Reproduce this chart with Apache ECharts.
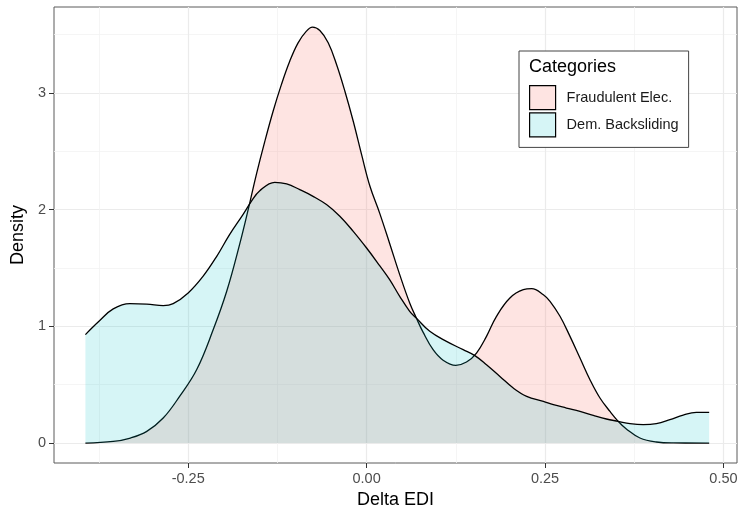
<!DOCTYPE html>
<html>
<head>
<meta charset="utf-8">
<script src="https://cdn.jsdelivr.net/npm/echarts@6/dist/echarts.min.js"></script>
<style>html,body{margin:0;padding:0;background:#fff}#c{width:739px;height:505px}</style>
</head>
<body>
<div id="c"></div>
<script>
// ---- data ----
var fraudX = [-0.394,-0.355,-0.331,-0.308,-0.285,-0.262,-0.238,-0.215,-0.196,-0.178,-0.164,-0.1545,-0.1428,-0.131,-0.1194,-0.1077,-0.096,-0.0843,-0.0758,-0.0655,-0.0538,-0.0421,-0.0304,-0.0187,-0.007,0.0047,0.0183,0.0323,0.0464,0.0604,0.0698,0.0791,0.0932,0.1072,0.125,0.140,0.154,0.168,0.182,0.2008,0.2196,0.2313,0.2477,0.257,0.271,0.285,0.299,0.313,0.327,0.341,0.3526,0.364,0.383,0.406,0.43,0.48];
var fraudY = [0,0.014,0.043,0.10,0.214,0.40,0.63,0.97,1.30,1.70,2.05,2.30,2.58,2.843,3.071,3.271,3.429,3.529,3.563,3.534,3.429,3.243,3.014,2.757,2.471,2.2,1.97,1.71,1.443,1.20,1.07,0.95,0.80,0.71,0.666,0.694,0.771,0.914,1.086,1.243,1.314,1.323,1.271,1.214,1.086,0.914,0.729,0.543,0.386,0.271,0.186,0.12,0.043,0.009,0.001,0];
var backX = [-0.394,-0.375,-0.355,-0.3316,-0.308,-0.285,-0.271,-0.25,-0.229,-0.210,-0.192,-0.173,-0.1615,-0.150,-0.1287,-0.112,-0.0936,-0.075,-0.0562,-0.0375,-0.0187,0.0,0.0183,0.0323,0.0464,0.0604,0.0698,0.0885,0.1119,0.1353,0.1517,0.168,0.1868,0.2055,0.2243,0.2477,0.2617,0.280,0.299,0.3176,0.336,0.3526,0.369,0.3876,0.406,0.425,0.4436,0.462,0.48];
var backY = [0.929,1.043,1.149,1.194,1.191,1.177,1.194,1.286,1.43,1.60,1.786,1.96,2.07,2.16,2.234,2.22,2.171,2.114,2.043,1.943,1.814,1.671,1.52,1.40,1.257,1.129,1.07,0.957,0.871,0.80,0.749,0.671,0.571,0.471,0.40,0.357,0.329,0.30,0.271,0.237,0.206,0.186,0.166,0.157,0.166,0.20,0.24,0.263,0.263];
var categories = ['Fraudulent Elec.', 'Dem. Backsliding'];
var xTicks = [-0.25, 0, 0.25, 0.5];
var xTickLabels = ['-0.25', '0.00', '0.25', '0.50'];
var xMinor = [-0.375, -0.125, 0.125, 0.375];
var yTicks = [0, 1, 2, 3];
var yMinor = [0.5, 1.5, 2.5, 3.5];
var legendTitle = 'Categories';
var xName = 'Delta EDI';
var yName = 'Density';

var pinkFill = 'rgba(248,118,109,0.2)';
var tealFill = 'rgba(0,191,196,0.16)';
var font = '"Liberation Sans", Arial, sans-serif';

function pairs(xs, ys) { return xs.map(function (x, i) { return [x, ys[i]]; }); }

var chart = echarts.init(document.getElementById('c'), null, {renderer: 'canvas'});
var xmin = -0.438, xmax = 0.519, ymin = -0.171, ymax = 3.736;

chart.setOption({
  animation: false,
  backgroundColor: '#fff',
  grid: {left: 54, right: 2, top: 7, bottom: 42, outerBoundsMode: 'none', containLabel: false,
    show: true, borderColor: '#5a5a5a', borderWidth: 1, backgroundColor: 'transparent'},
  xAxis: [{
    type: 'value', min: xmin, max: xmax, position: 'bottom',
    name: xName, nameLocation: 'middle', nameGap: 23,
    nameTextStyle: {fontFamily: font, fontSize: 18, color: '#000'},
    axisLine: {show: false, onZero: false},
    axisTick: {show: true, length: 5, lineStyle: {color: '#333', width: 1}, customValues: xTicks},
    axisLabel: {customValues: xTicks, margin: 8, fontFamily: font, fontSize: 14.5, color: '#4d4d4d',
      formatter: function (v) { var i = xTicks.indexOf(v); return i >= 0 ? xTickLabels[i] : ''; }},
    splitLine: {show: true, lineStyle: {color: '#ebebeb', width: 1.2}}
  }, {
    type: 'value', min: xmin, max: xmax, position: 'bottom',
    axisLine: {show: false, onZero: false}, axisLabel: {show: false},
    axisTick: {show: false, customValues: xMinor},
    splitLine: {show: true, lineStyle: {color: '#f3f3f3', width: 0.8}}
  }],
  yAxis: [{
    type: 'value', min: ymin, max: ymax, position: 'left',
    name: yName, nameLocation: 'middle', nameGap: 21,
    nameTextStyle: {fontFamily: font, fontSize: 18, color: '#000'},
    axisLine: {show: false, onZero: false},
    axisTick: {show: true, length: 5, lineStyle: {color: '#333', width: 1}, customValues: yTicks},
    axisLabel: {customValues: yTicks, margin: 8, fontFamily: font, fontSize: 14.5, color: '#4d4d4d'},
    splitLine: {show: true, lineStyle: {color: '#ebebeb', width: 1.2}}
  }, {
    type: 'value', min: ymin, max: ymax, position: 'left',
    axisLine: {show: false, onZero: false}, axisLabel: {show: false},
    axisTick: {show: false, customValues: yMinor},
    splitLine: {show: true, lineStyle: {color: '#f3f3f3', width: 0.8}}
  }],
  legend: {
    orient: 'vertical', left: 519, top: 51,
    padding: [34, 10, 10, 10],
    borderColor: '#444', borderWidth: 1, backgroundColor: '#fff',
    itemWidth: 26, itemHeight: 24, itemGap: 2,
    textStyle: {fontFamily: font, fontSize: 14.5, color: '#1a1a1a', padding: [0, 0, 0, 6]},
    data: [
      {name: categories[0], icon: 'rect', itemStyle: {color: pinkFill, borderColor: '#000', borderWidth: 1.2}},
      {name: categories[1], icon: 'rect', itemStyle: {color: tealFill, borderColor: '#000', borderWidth: 1.2}}
    ]
  },
  graphic: [{
    type: 'text', left: 529, top: 58, z: 100,
    style: {text: legendTitle, fontFamily: font, fontSize: 18, fill: '#000'}
  }],
  series: [{
    name: categories[0], type: 'line', smooth: 0.4, symbol: 'none', z: 3,
    data: pairs(fraudX, fraudY),
    lineStyle: {color: '#000', width: 1.3},
    itemStyle: {color: pinkFill},
    areaStyle: {color: pinkFill, opacity: 1}
  }, {
    name: categories[1], type: 'line', smooth: 0.4, symbol: 'none', z: 4,
    data: pairs(backX, backY),
    lineStyle: {color: '#000', width: 1.3},
    itemStyle: {color: tealFill},
    areaStyle: {color: tealFill, opacity: 1}
  }]
});
</script>
</body>
</html>
